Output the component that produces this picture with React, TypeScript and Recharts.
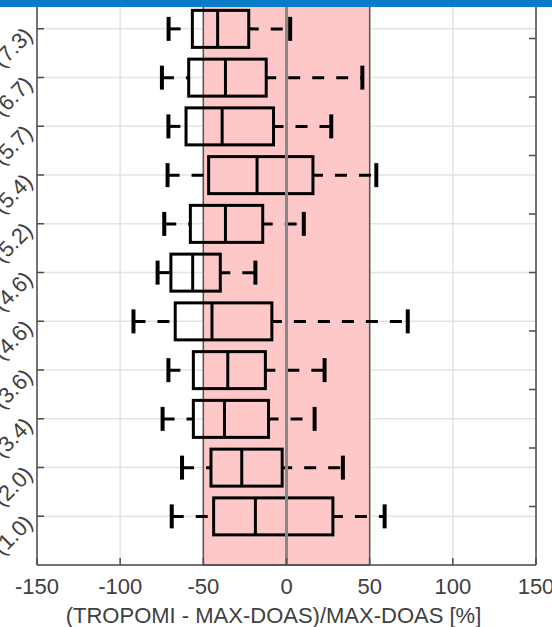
import React from 'react';
import {
  ComposedChart,
  Bar,
  XAxis,
  YAxis,
  CartesianGrid,
  ReferenceArea,
  ReferenceLine,
  Label,
} from 'recharts';

// bottom (1) to top (11)
const stations = ['(1.0)', '(2.0)', '(3.4)', '(3.6)', '(4.6)', '(4.6)', '(5.2)', '(5.4)', '(5.7)', '(6.7)', '(7.3)'];
const whiskerLow = [-69, -62.8, -74.5, -71, -92, -77.5, -73.5, -71.5, -71, -74.9, -70.9];
const q1 = [-43.8, -45.4, -56, -56, -66.9, -69.5, -57.8, -46.8, -60.4, -58.8, -56.6];
const median = [-18.7, -26.9, -37.3, -35.3, -44.8, -56.4, -36.7, -17.7, -38.7, -36.7, -41.4];
const q3 = [27.9, -2.6, -10.8, -12.7, -8.8, -39.8, -14.3, 15.9, -7.8, -12.2, -22.7];
const whiskerHigh = [59, 33.9, 16.9, 22.9, 72.9, -18.7, 10.4, 54, 26.9, 45.6, 2.2];
const xTicks = [-150, -100, -50, 0, 50, 100, 150];
const yTicks = [1, 2, 3, 4, 5, 6, 7, 8, 9, 10, 11];

const rows = stations.map((label, i) => ({
  pos: i + 1,
  label,
  box: [q1[i], q3[i]],
  lo: whiskerLow[i],
  med: median[i],
  hi: whiskerHigh[i],
}));

const FONT = "'Liberation Sans', Arial, sans-serif";
const TEXT = '#404040';
const AXIS = '#4d4d4d';

const BoxShape = (props: any) => {
  const { x, y, width, height, payload } = props;
  const [a, b] = payload.box;
  const k = width / (b - a);
  const px = (v: number) => x + (v - a) * k;
  const cy = y + height / 2;
  return (
    <g>
      <line x1={px(payload.lo)} x2={x} y1={cy} y2={cy} stroke="#000" strokeWidth={3} strokeDasharray="12 12" />
      <line x1={x + width} x2={px(payload.hi)} y1={cy} y2={cy} stroke="#000" strokeWidth={3} strokeDasharray="12 12" strokeDashoffset={2} />
      <line x1={px(payload.lo)} x2={px(payload.lo)} y1={cy - 12} y2={cy + 12} stroke="#000" strokeWidth={4} />
      <line x1={px(payload.hi)} x2={px(payload.hi)} y1={cy - 12} y2={cy + 12} stroke="#000" strokeWidth={4} />
      <rect x={x} y={y} width={width} height={height} fill="none" stroke="#000" strokeWidth={3} />
      <line x1={px(payload.med)} x2={px(payload.med)} y1={y} y2={y + height} stroke="#000" strokeWidth={3} />
    </g>
  );
};

const XTick = ({ x, y, payload }: any) => {
  const axisY = y - 8;
  return (
    <g>
      <line x1={x} x2={x} y1={axisY} y2={axisY - 7} stroke={AXIS} strokeWidth={1.5} />
      <text x={x} y={axisY + 29} textAnchor="middle" fill={TEXT} fontSize={22} fontFamily={FONT}>
        {payload.value}
      </text>
    </g>
  );
};

const YTickLeft = ({ x, y, payload }: any) => {
  const axisX = x + 8;
  const label = stations[payload.value - 1];
  const px = axisX - 3;
  const py = y + 8;
  return (
    <g>
      <line x1={axisX} x2={axisX + 7} y1={y} y2={y} stroke={AXIS} strokeWidth={1.5} />
      <text x={px} y={py} textAnchor="end" fill={TEXT} fontSize={22} fontFamily={FONT} transform={`rotate(-45, ${px}, ${py})`}>
        {label}
      </text>
    </g>
  );
};

const YTickRight = ({ x, y }: any) => {
  const axisX = x - 8;
  return <line x1={axisX} x2={axisX - 7} y1={y} y2={y} stroke={AXIS} strokeWidth={1.5} />;
};

export default function App() {
  return (
    <div style={{ position: 'absolute', left: 0, top: 0, width: 552, height: 627, overflow: 'hidden', background: '#fff' }}>
      <div style={{ position: 'absolute', left: 0, top: -60 }}>
        <ComposedChart
          width={552}
          height={700}
          layout="vertical"
          data={rows}
          margin={{ top: 40, right: 15, left: 0, bottom: 0 }}
        >
          <CartesianGrid stroke="#e3e3e3" strokeWidth={1.5} />
          <XAxis
            type="number"
            dataKey="med"
            domain={[-150, 150]}
            ticks={xTicks}
            interval={0}
            allowDataOverflow
            height={75}
            tickLine={false}
            axisLine={{ stroke: AXIS, strokeWidth: 1.5 }}
            tick={<XTick />}
          >
            <Label
              value="(TROPOMI - MAX-DOAS)/MAX-DOAS [%]"
              position="insideBottom"
              offset={17}
              dx={-13}
              fill={TEXT}
              fontSize={22}
              fontFamily={FONT}
            />
          </XAxis>
          <YAxis
            type="number"
            dataKey="pos"
            domain={[0, 12]}
            ticks={yTicks}
            interval={0}
            reversed
            width={37}
            tickLine={false}
            axisLine={{ stroke: AXIS, strokeWidth: 1.5 }}
            tick={<YTickLeft />}
          />
          <YAxis
            yAxisId="r"
            orientation="right"
            type="number"
            domain={[0, 12]}
            ticks={yTicks}
            interval={0}
            reversed
            width={1}
            tickLine={false}
            axisLine={{ stroke: AXIS, strokeWidth: 1.5 }}
            tick={<YTickRight />}
          />
          <ReferenceArea x1={-50} x2={50} fill="#ffc8c8" fillOpacity={1} stroke="#555" strokeWidth={1.5} />
          <ReferenceLine x={0} stroke="#888" strokeWidth={3} />
          <Bar dataKey="box" barSize={37} isAnimationActive={false} shape={<BoxShape />} />
        </ComposedChart>
      </div>
      <div style={{ position: 'absolute', left: 0, top: 0, width: 552, height: 7, background: '#0a7bc8' }} />
    </div>
  );
}
